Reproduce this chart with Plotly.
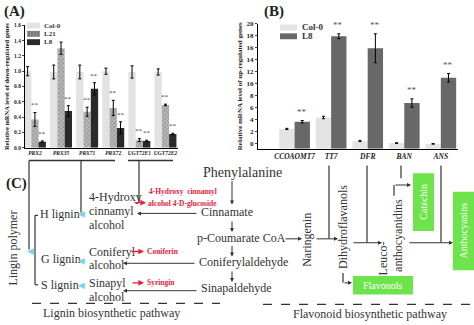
import plotly.graph_objects as go
import numpy as np

W, H = 474, 325
SERIF = "Liberation Serif"

# ---------------- data: panel A ----------------
a_genes = ["PRX2", "PRX35", "PRX71", "PRX72", "UGT72E1", "UGT72E2"]
a_col0 = [1.00, 0.99, 0.99, 1.00, 0.99, 0.99]
a_col0_err = [0.06, 0.09, 0.09, 0.04, 0.08, 0.04]
a_l21 = [0.37, 1.30, 0.47, 0.52, 0.10, 0.56]
a_l21_err = [0.09, 0.08, 0.06, 0.10, 0.02, 0.01]
a_l8 = [0.08, 0.48, 0.77, 0.26, 0.09, 0.18]
a_l8_err = [0.01, 0.07, 0.08, 0.08, 0.01, 0.01]
a_l21_sig = [True, False, True, True, True, True]
a_l8_sig = [True, True, True, True, True, True]
a_series = ["Col-0", "L21", "L8"]

# ---------------- data: panel B ----------------
b_genes = ["CCOAOMT7", "TT7", "DFR", "BAN", "ANS"]
b_col0 = [2.5, 4.4, 0.5, 0.15, 0.02]
b_col0_err = [0.1, 0.2, 0.1, 0.05, 0.04]
b_l8 = [3.7, 17.9, 15.9, 6.8, 11.0]
b_l8_err = [0.2, 0.4, 2.4, 0.7, 0.7]
b_series = ["Col-0", "L8"]

A_YTICKS = [0.0, 0.2, 0.4, 0.6, 0.8, 1.0, 1.2, 1.4, 1.6]
B_YTICKS = [0, 2, 4, 6, 8, 10, 12, 14, 16, 18, 20]
B_BASE = -0.8

A_COLORS = ["#e2e2e2", "#9a9a9a", "#2a2a2a"]
B_COLORS = ["#e4e4e4", "#686868"]


def px(x):
    return x / W


def py(y):
    return 1 - y / H


fig = go.Figure()
xa = np.arange(len(a_genes))
xb = np.arange(len(b_genes))

err_style = dict(type="data", visible=True, color="black", thickness=1, width=1.5)

fig.add_trace(go.Bar(x=xa, y=a_col0, name=a_series[0], marker=dict(color=A_COLORS[0], line=dict(width=0)),
                     error_y=dict(array=a_col0_err, **err_style), xaxis="x", yaxis="y", showlegend=False))
fig.add_trace(go.Bar(x=xa, y=a_l21, name=a_series[1],
                     marker=dict(color="#a8a8a8", line=dict(width=0),
                                 pattern=dict(shape="x", fgcolor="#5a5a5a", bgcolor="#b8b8b8", size=3, solidity=0.35)),
                     error_y=dict(array=a_l21_err, **err_style), xaxis="x", yaxis="y", showlegend=False))
fig.add_trace(go.Bar(x=xa, y=a_l8, name=a_series[2], marker=dict(color=A_COLORS[2], line=dict(width=0)),
                     error_y=dict(array=a_l8_err, **err_style), xaxis="x", yaxis="y", showlegend=False))

b_col0_h = [v - B_BASE for v in b_col0]
b_l8_h = [v - B_BASE for v in b_l8]
fig.add_trace(go.Bar(x=xb, y=b_col0_h, base=B_BASE, name=b_series[0], marker=dict(color=B_COLORS[0], line=dict(width=0)),
                     error_y=dict(array=b_col0_err, **err_style), xaxis="x2", yaxis="y2", showlegend=False))
fig.add_trace(go.Bar(x=xb, y=b_l8_h, base=B_BASE, name=b_series[1], marker=dict(color=B_COLORS[1], line=dict(width=0)),
                     error_y=dict(array=b_l8_err, **err_style), xaxis="x2", yaxis="y2", showlegend=False))

annotations = []
A_GAP = 0.16
B_GAP = 0.2
wa = (1 - A_GAP) / 3
wb = (1 - B_GAP) / 2

for i in range(len(a_genes)):
    if a_l21_sig[i]:
        annotations.append(dict(x=i, y=a_l21[i] + a_l21_err[i] + 0.015, xref="x", yref="y", text="**",
                                showarrow=False, yanchor="bottom", xanchor="center",
                                font=dict(family=SERIF, size=7, color="#444")))
    if a_l8_sig[i]:
        annotations.append(dict(x=i + wa, y=a_l8[i] + a_l8_err[i] + 0.015, xref="x", yref="y", text="**",
                                showarrow=False, yanchor="bottom", xanchor="center",
                                font=dict(family=SERIF, size=7, color="#444")))
for i in range(len(b_genes)):
    annotations.append(dict(x=i + wb / 2, y=b_l8[i] + b_l8_err[i] + 0.3, xref="x2", yref="y2", text="**",
                            showarrow=False, yanchor="bottom", xanchor="center",
                            font=dict(family=SERIF, size=9, color="#555")))

shapes = []
DARK = "#333333"
CYAN = "#7dd4e6"
RED = "#e8203c"
GREEN = "#6ee44c"


def txt(x, y, s, size=12, color=DARK, xanchor="left", angle=0, bold=False, yanchor="middle"):
    annotations.append(dict(x=px(x), y=py(y), xref="paper", yref="paper", text=s, showarrow=False,
                            xanchor=xanchor, yanchor=yanchor, textangle=angle,
                            font=dict(family=SERIF, size=size, color=color, weight="bold" if bold else "normal")))


def line(x0, y0, x1, y1, color=DARK, width=1.2, dash="solid"):
    shapes.append(dict(type="line", xref="paper", yref="paper", x0=px(x0), y0=py(y0), x1=px(x1), y1=py(y1),
                       line=dict(color=color, width=width, dash=dash)))


def arrow(x0, y0, x1, y1, color=DARK, width=1.0, size=0.8):
    annotations.append(dict(x=px(x1), y=py(y1), xref="paper", yref="paper", ax=x0 - x1, ay=y0 - y1,
                            axref="pixel", ayref="pixel", text="", showarrow=True, arrowhead=2,
                            arrowsize=size, arrowwidth=width, arrowcolor=color, standoff=0, startstandoff=0))


def box(x0, y0, x1, y1, color=GREEN):
    shapes.append(dict(type="rect", xref="paper", yref="paper", x0=px(x0), y0=py(y1), x1=px(x1), y1=py(y0),
                       fillcolor=color, line=dict(width=0), layer="above"))


# manual legends
for k, name in enumerate(a_series):
    yc = 22 + k * 8.5
    box(27, yc - 3, 40, yc + 3, color=A_COLORS[k])
    txt(42, yc, name, size=7, bold=True, color="#333")
# crosshatch hint on L21 swatch
for xx in range(28, 40, 3):
    line(xx, 27.5, xx + 2, 33.5, color="#5a5a5a", width=0.6)
    line(xx + 2, 27.5, xx, 33.5, color="#5a5a5a", width=0.6)
for k, name in enumerate(b_series):
    yc = 24 + k * 9
    box(280, yc - 3, 297, yc + 3, color=B_COLORS[k])
    txt(300, yc, name, size=9, bold=True, color="#333")

# panel labels
txt(2, 8, "(A)", size=15, bold=True, color="#222")
txt(262, 8, "(B)", size=15, bold=True, color="#222")
txt(4, 183, "(C)", size=15, bold=True, color="#222")

# brackets under panel A
line(29, 160, 115, 160, width=1.4)
line(128, 160, 173, 160, width=1.4)
line(29, 160, 29, 251)
line(81, 160, 81, 213)
line(139, 160, 139, 203)

# lignin polymer / bracket
txt(13, 250, "Lingin polymer", size=12, angle=-90, xanchor="center")
line(35, 216, 35, 287)
line(35, 216, 38, 216)
line(35, 287, 38, 287)
arrow(36, 253, 27, 253, color=CYAN, width=1.5, size=0.9)
txt(38, 215, "H lignin", size=12)
txt(39, 261, "G lignin", size=12)
txt(39, 287, "S lignin", size=12)
arrow(87, 215, 78, 215, color=CYAN, width=1.5, size=0.9)
arrow(87, 263, 78, 263, color=CYAN, width=1.5, size=0.9)
arrow(87, 288, 78, 288, color=CYAN, width=1.5, size=0.9)

# monolignol alcohols
txt(87, 197, "4-Hydroxy", size=12)
txt(87, 212, "cinnamyl", size=12)
txt(87, 226, "alcohol", size=12)
txt(87, 253, "Coniferyl", size=12)
txt(87, 267, "alcohol", size=12)
txt(87, 285, "Sinapyl", size=12)
txt(87, 299, "alcohol", size=12)

# glucosides (red)
arrow(133, 203, 146, 203, color=RED, width=1.4)
txt(147, 192, "4-Hydroxy  cinnamyl", size=7.5, color=RED, bold=True)
txt(146, 204, "alcohol 4-D-glucoside", size=7.5, color=RED, bold=True)
arrow(130, 253, 144, 253, color=RED, width=1.4)
txt(145, 253, "Coniferin", size=7.5, color=RED, bold=True)
arrow(131, 285, 144, 285, color=RED, width=1.4)
txt(145, 285, "Syringin", size=7.5, color=RED, bold=True)

# main phenylpropanoid column
txt(201, 172, "Phenylalanine", size=14)
arrow(232, 180, 232, 205)
txt(199, 213, "Cinnamate", size=12)
arrow(198, 214, 137, 214)
arrow(232, 221, 232, 233)
txt(195, 239, "p-Coumarate CoA", size=12)
arrow(284, 240, 302, 240)
arrow(232, 246, 232, 258)
txt(197, 264, "Coniferylaldehyde", size=12)
arrow(196, 265, 123, 265)
arrow(232, 272, 232, 284)
txt(199, 290, "Sinapaldehyde", size=12)
arrow(198, 293, 123, 293)

line(32, 306, 220, 306, width=1.2, dash="dash")
txt(111, 316, "Lignin biosynthetic pathway", size=12, xanchor="center")

# flavonoid part
line(329, 165, 329, 240)
txt(307, 241, "Naringenin", size=12, angle=-90, xanchor="center")
arrow(315, 240, 338, 240)
txt(343, 228, "Dihydroflavanols", size=12, angle=-90, xanchor="center")
line(367, 165, 367, 244)
arrow(352, 244, 382, 244)
txt(383, 260, "Leuco-", size=12, angle=-90, xanchor="center")
txt(398, 237, "anthocyanidins", size=12, angle=-90, xanchor="center")
line(401, 165, 401, 178)
line(394, 196, 394, 185)
arrow(394, 185, 411, 185)
box(413, 173, 434, 232)
txt(423.5, 202.5, "Catechin", size=10, color="white", angle=-90, xanchor="center")
line(441, 165, 441, 244)
arrow(408, 244, 453, 244)
box(453, 192, 474, 272)
txt(463.5, 232, "Anthocyanins", size=10, color="white", angle=-90, xanchor="center")
line(343, 275, 343, 285)
arrow(343, 285, 352, 285)
box(353, 278, 413, 297)
txt(383, 288, "Flavonols", size=10, color="white", xanchor="center")

line(263, 307, 474, 307, width=1.2, dash="dash")
txt(370, 317, "Flavonoid biosynthetic pathway", size=12, xanchor="center")

axis_common = dict(showline=True, linecolor="black", linewidth=1, showgrid=False, zeroline=False)

fig.update_layout(
    width=W, height=H,
    margin=dict(l=0, r=0, t=0, b=0),
    paper_bgcolor="white", plot_bgcolor="white",
    barmode="group",
    bargap=A_GAP,
    showlegend=False,
    font=dict(family=SERIF, color="#222"),
    xaxis=dict(domain=[px(25), px(178)], range=[-0.38, 5.48], tickvals=list(xa), ticktext=a_genes,
               ticks="", tickfont=dict(family=SERIF, size=5.5, style="italic", weight="bold"),
               anchor="y", **axis_common),
    yaxis=dict(domain=[py(147), py(21.7)], range=[0, 1.6], tickvals=A_YTICKS,
               ticktext=[f"{v:.1f}" for v in A_YTICKS], ticks="outside", ticklen=2,
               tickfont=dict(family=SERIF, size=5.5, weight="bold"), anchor="x",
               title=dict(text="Relative mRNA level of down-regulated genes",
                          font=dict(family=SERIF, size=6.5, weight="bold"), standoff=3),
               **axis_common),
    xaxis2=dict(domain=[px(258), px(458)], range=[-1.0, 4.47], tickvals=list(xb), ticktext=b_genes,
                ticks="", tickfont=dict(family=SERIF, size=7.5, style="italic", weight="bold"),
                anchor="y2", **axis_common),
    yaxis2=dict(domain=[py(148), py(20)], range=[B_BASE, 20], tickvals=B_YTICKS, ticks="outside", ticklen=2,
                tickfont=dict(family=SERIF, size=7, weight="bold"), anchor="x2",
                title=dict(text="Relative mRNA level of up-regulated genes",
                           font=dict(family=SERIF, size=7, weight="bold"), standoff=3),
                **axis_common),
    annotations=annotations,
    shapes=shapes,
)

fig.write_html("out.html")
